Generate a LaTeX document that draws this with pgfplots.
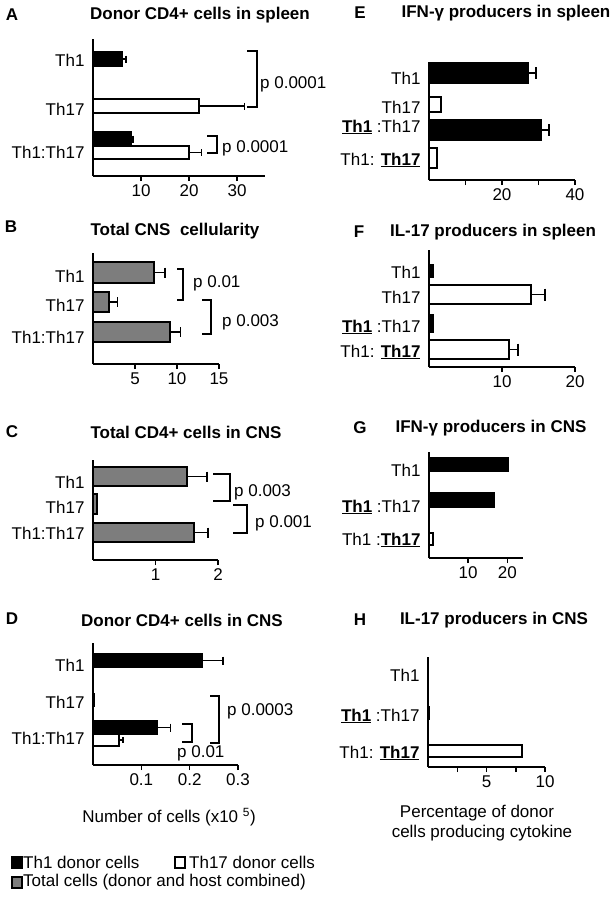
\documentclass[border=0pt]{standalone}
\usepackage{pgfplots}
\pgfplotsset{compat=1.18}
\usepackage{fontspec}
\setmainfont{Liberation Sans}
\definecolor{barGray}{RGB}{125,125,125}
\newcommand{\fs}{\fontsize{17}{20}\selectfont}
\pgfplotsset{
 panel/.style={
  scale only axis, xmin=0, clip=false,
  axis lines*=left, axis line style={line width=1.8pt,-},
  xbar, bar shift=0pt,
  tick align=outside, major tick length=5pt,
  xtick style={line width=1.5pt,black},
  ytick style={draw=none},
  tick label style={font=\fs},
  /pgf/number format/assume math mode=true,
  yticklabel style={anchor=east},
  every axis plot/.append style={draw=black, line width=1.8pt},
 },
 eb/.style={/pgfplots/error bars/x dir=plus, /pgfplots/error bars/x explicit,
  /pgfplots/error bars/error mark=|,
  /pgfplots/error bars/error bar style={line width=1.5pt,black},
  /pgfplots/error bars/error mark options={line width=1.5pt, mark size=#1, black}},
}
\begin{document}
\begin{tikzpicture}[x=1pt,y=-1pt]
\path[use as bounding box] (0,0) rectangle (615,900);

% ---------------- A
\begin{axis}[panel, at={(93pt,-176pt)}, anchor=south west, width=172pt, height=137pt,
  xmax=35.8, ymin=-176, ymax=-39, xtick={10,20,30},
  ytick={-152,-109,-60}, yticklabels={Th1:Th17,Th17,Th1}]
\addplot[fill=black, bar width=14, eb=3.5pt] coordinates {(6.0,-59) +- (0.9,0)};
\addplot[fill=white, bar width=14, eb=3.5pt] coordinates {(22.1,-106) +- (9.4,0)};
\addplot[fill=black, bar width=14, eb=3.5pt] coordinates {(7.9,-139) +- (0.4,0)};
\addplot[fill=white, bar width=13, eb=3.5pt] coordinates {(20.0,-152.5) +- (2.6,0)};
\end{axis}
\node[font=\fs\bfseries] at (12,15) {A};
\node[font=\fs\bfseries] at (200,15) {Donor CD4+ cells in spleen};
\draw[line width=1.6pt] (247,51) -- (257,51) -- (257,107) -- (247,107);
\node[font=\fs, anchor=west, inner sep=0pt] at (260,84) {p 0.0001};
\draw[line width=1.6pt] (207,136) -- (217,136) -- (217,153) -- (207,153);
\node[font=\fs, anchor=west, inner sep=0pt] at (222,148) {p 0.0001};

% ---------------- B
\begin{axis}[panel, at={(93pt,-364pt)}, anchor=south west, width=126pt, height=111pt,
  xmax=15, ymin=-364, ymax=-253, xtick={5,10,15},
  ytick={-337,-305,-276}, yticklabels={Th1:Th17,Th17,Th1}]
\addplot[fill=barGray, bar width=21, eb=5pt] coordinates {(7.3,-272.5) +- (1.3,0)};
\addplot[fill=barGray, bar width=20, eb=5pt] coordinates {(1.9,-302) +- (1.0,0)};
\addplot[fill=barGray, bar width=20, eb=5pt] coordinates {(9.2,-332) +- (1.2,0)};
\end{axis}
\node[font=\fs\bfseries] at (11,227) {B};
\node[font=\fs\bfseries] at (175,231) {Total CNS\ \ cellularity};
\draw[line width=1.6pt] (177,269) -- (183,269) -- (183,300) -- (177,300);
\node[font=\fs, anchor=west, inner sep=0pt] at (193,283) {p 0.01};
\draw[line width=1.6pt] (202,300) -- (211,300) -- (211,334) -- (202,334);
\node[font=\fs, anchor=west, inner sep=0pt] at (222,322) {p 0.003};

% ---------------- C
\begin{axis}[panel, at={(93pt,-560pt)}, anchor=south west, width=125pt, height=100pt,
  xmax=2, ymin=-560, ymax=-460, xtick={1,2},
  ytick={-533,-507,-482}, yticklabels={Th1:Th17,Th17,Th1}]
\addplot[fill=barGray, bar width=19, eb=5pt] coordinates {(1.50,-476.5) +- (0.32,0)};
\addplot[fill=barGray, bar width=20] coordinates {(0.06,-504)};
\addplot[fill=barGray, bar width=19, eb=5pt] coordinates {(1.62,-532.5) +- (0.22,0)};
\end{axis}
\node[font=\fs\bfseries] at (12,432) {C};
\node[font=\fs\bfseries] at (186,432) {Total CD4+ cells in CNS};
\draw[line width=1.6pt] (213,474) -- (230,474) -- (230,501) -- (213,501);
\node[font=\fs, anchor=west, inner sep=0pt] at (234,492) {p 0.003};
\draw[line width=1.6pt] (233,505) -- (247,505) -- (247,533) -- (233,533);
\node[font=\fs, anchor=west, inner sep=0pt] at (255,523) {p 0.001};

% ---------------- D
\begin{axis}[panel, at={(93pt,-765pt)}, anchor=south west, width=145pt, height=122pt,
  xmax=0.3, ymin=-765, ymax=-643, xtick={0.1,0.2,0.3},
  ytick={-738,-702,-665}, yticklabels={Th1:Th17,Th17,Th1}]
\addplot[fill=black, bar width=13, eb=4pt] coordinates {(0.225,-660.5) +- (0.044,0)};
\addplot[fill=white, bar width=12] coordinates {(0.002,-700)};
\addplot[fill=black, bar width=13, eb=4pt] coordinates {(0.133,-727.5) +- (0.027,0)};
\addplot[fill=white, bar width=12, eb=3pt] coordinates {(0.054,-740) +- (0.008,0)};
\end{axis}
\node[font=\fs\bfseries] at (12,619) {D};
\node[font=\fs\bfseries] at (182,620) {Donor CD4+ cells in CNS};
\draw[line width=1.6pt] (182,724) -- (192,724) -- (192,742) -- (182,742);
\node[font=\fs, anchor=west, inner sep=0pt] at (177,753) {p 0.01};
\draw[line width=1.6pt] (210,696) -- (219,696) -- (219,743) -- (210,743);
\node[font=\fs, anchor=west, inner sep=0pt] at (227,711) {p 0.0003};
\node[font=\fs] at (169,817) {Number of cells (x10 \textsuperscript{5})};

% ---------------- E
\begin{axis}[panel, at={(429pt,-180pt)}, anchor=south west, width=146pt, height=117pt,
  xmax=40, ymin=-180, ymax=-63, xtick={10,20,30,40}, xticklabels={,20,,40},
  ytick={-160,-127,-107,-78},
  yticklabels={{Th1: \underline{\textbf{Th17}}},{\underline{\textbf{Th1}} :Th17},Th17,Th1}]
\addplot[fill=black, bar width=20, eb=6pt] coordinates {(27.1,-73) +- (2.2,0)};
\addplot[fill=white, bar width=15] coordinates {(3.3,-104.5)};
\addplot[fill=black, bar width=20, eb=6pt] coordinates {(30.7,-130) +- (2.2,0)};
\addplot[fill=white, bar width=20] coordinates {(2.2,-158)};
\end{axis}
\node[font=\fs\bfseries] at (360,13) {E};
\node[font=\fs\bfseries] at (506,13) {IFN-γ producers in spleen};

% ---------------- F
\begin{axis}[panel, at={(429pt,-367pt)}, anchor=south west, width=146pt, height=117pt,
  xmax=20, ymin=-367, ymax=-250, xtick={10,20},
  ytick={-352,-327,-297,-272},
  yticklabels={{Th1: \underline{\textbf{Th17}}},{\underline{\textbf{Th1}} :Th17},Th17,Th1}]
\addplot[fill=black, bar width=12] coordinates {(0.5,-271)};
\addplot[fill=white, bar width=19, eb=6pt] coordinates {(14.0,-294.5) +- (1.9,0)};
\addplot[fill=black, bar width=17] coordinates {(0.5,-323.5)};
\addplot[fill=white, bar width=19, eb=6pt] coordinates {(11.0,-349.5) +- (1.2,0)};
\end{axis}
\node[font=\fs\bfseries] at (359,232) {F};
\node[font=\fs\bfseries] at (493,232) {IL-17 producers in spleen};

% ---------------- G
\begin{axis}[panel, at={(429pt,-558pt)}, anchor=south west, width=94pt, height=106pt,
  xmax=24, ymin=-558, ymax=-452, xtick={10,20},
  ytick={-540,-507,-470},
  yticklabels={{Th1 :\underline{\textbf{Th17}}},{\underline{\textbf{Th1}} :Th17},Th1}]
\addplot[fill=black, bar width=13] coordinates {(20.3,-464.5)};
\addplot[fill=black, bar width=14] coordinates {(16.7,-500)};
\addplot[fill=white, bar width=12] coordinates {(1.0,-539)};
\end{axis}
\node[font=\fs\bfseries] at (360,428) {G};
\node[font=\fs\bfseries] at (491,428) {IFN-γ producers in CNS};

% ---------------- H
\begin{axis}[panel, at={(428pt,-767pt)}, anchor=south west, width=117pt, height=110pt,
  xmax=10, ymin=-767, ymax=-657, xtick={2.5,5,7.5,10}, xticklabels={,5,,10},
  ytick={-753,-716,-675},
  yticklabels={{Th1: \underline{\textbf{Th17}}},{\underline{\textbf{Th1}} :Th17},Th1}]
\addplot[fill=black, bar width=12] coordinates {(0.05,-675)};
\addplot[fill=black, bar width=12] coordinates {(0.08,-713)};
\addplot[fill=white, bar width=12] coordinates {(8.0,-751)};
\end{axis}
\node[font=\fs\bfseries] at (360,620) {H};
\node[font=\fs\bfseries] at (494,620) {IL-17 producers in CNS};
\node[font=\fs] at (477,813) {Percentage of donor};
\node[font=\fs] at (482,833) {cells producing cytokine};

% ---------------- legend
\draw[line width=1.2pt, fill=black] (12,857) rectangle (22,868);
\node[font=\fs, anchor=west, inner sep=0pt] at (23,862.5) {Th1 donor cells};
\draw[line width=1.2pt, fill=white] (175,857) rectangle (185,868);
\node[font=\fs, anchor=west, inner sep=0pt] at (189,862.5) {Th17 donor cells};
\draw[line width=1.2pt, fill=barGray] (12,877) rectangle (22,888);
\node[font=\fs, anchor=west, inner sep=0pt] at (23,882.5) {Total cells (donor and host combined)};
\end{tikzpicture}
\end{document}
